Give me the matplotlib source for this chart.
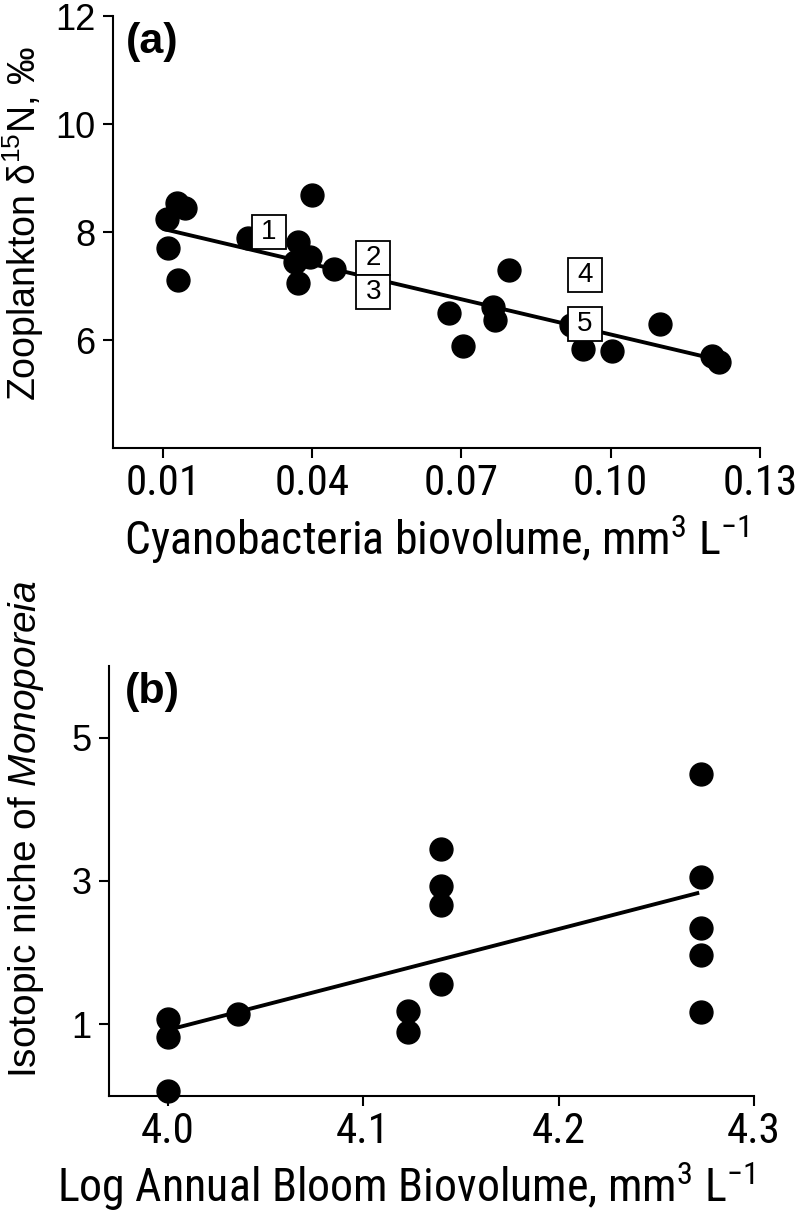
import os
import matplotlib
matplotlib.use("Agg")
import matplotlib.pyplot as plt
import matplotlib.font_manager as fm

plt.rcParams['font.family'] = ['Liberation Sans', 'DejaVu Sans']
plt.rcParams['mathtext.fontset'] = 'custom'
plt.rcParams['mathtext.rm'] = 'Liberation Sans'
plt.rcParams['mathtext.it'] = 'Liberation Sans:italic'
plt.rcParams['mathtext.bf'] = 'Liberation Sans:bold'

# the x axis texts are set in a condensed face in the original; use one if present
narrow_file = None
for key in ['LiberationSansNarrow-Regular', 'RobotoCondensed-Regular',
            'DejaVuSansCondensed.ttf', 'OpenSans_Condensed-Regular']:
    for f in fm.fontManager.ttflist:
        if key in os.path.basename(f.fname):
            narrow_file = f.fname
            break
    if narrow_file:
        break

if narrow_file:
    narrow_name = fm.get_font(narrow_file).family_name
    plt.rcParams['mathtext.sf'] = narrow_name
    xtick_fp = fm.FontProperties(fname=narrow_file, size=31)
    xlab_fp_a = fm.FontProperties(fname=narrow_file, size=33)
    xlab_fp_b = fm.FontProperties(fname=narrow_file, size=33)
    unit = r'$\mathsf{mm^{3}}$ $\mathsf{L^{-1}}$'
else:
    xtick_fp = fm.FontProperties(family='Liberation Sans', size=27)
    xlab_fp_a = fm.FontProperties(family='Liberation Sans', size=29)
    xlab_fp_b = fm.FontProperties(family='Liberation Sans', size=29)
    unit = r'mm$^{3}$ L$^{-1}$'
xlab_a = 'Cyanobacteria biovolume, ' + unit
xlab_b = 'Log Annual Bloom Biovolume, ' + unit

# panel (a): zooplankton d15N vs cyanobacteria biovolume
cyano_x = [0.0108, 0.0128, 0.0144, 0.0110, 0.0130, 0.0271, 0.0372, 0.0396,
           0.0366, 0.0372, 0.0400, 0.0444, 0.0676, 0.0704, 0.0764, 0.0768,
           0.0795, 0.0920, 0.0944, 0.1002, 0.1100, 0.1203, 0.1217]
zoo_n15 = [8.24, 8.54, 8.44, 7.70, 7.11, 7.89, 7.82, 7.54,
           7.44, 7.06, 8.69, 7.31, 6.50, 5.89, 6.61, 6.37,
           7.30, 6.28, 5.83, 5.80, 6.30, 5.70, 5.59]
fit_a_x = [0.0104, 0.1208]
fit_a_y = [8.05, 5.65]
box_x = [0.0313, 0.0523, 0.0523, 0.0948, 0.0948]
box_y = [8.00, 7.52, 6.88, 7.20, 6.30]
box_labels = ['1', '2', '3', '4', '5']
a_xticks = [0.01, 0.04, 0.07, 0.10, 0.13]
a_xticklabels = ['0.01', '0.04', '0.07', '0.10', '0.13']
a_yticks = [6, 8, 10, 12]

# panel (b): isotopic niche vs log bloom biovolume
bloom_x = [4.0, 4.0, 4.0, 4.036, 4.123, 4.123, 4.14, 4.14, 4.14, 4.14,
           4.273, 4.273, 4.273, 4.273, 4.273]
niche = [1.08, 0.82, 0.07, 1.15, 1.18, 0.90, 3.45, 2.93, 2.67, 1.56,
         4.49, 3.05, 2.35, 1.97, 1.17]
fit_b_x = [4.0, 4.271]
fit_b_y = [0.92, 2.83]
b_xticks = [4.0, 4.1, 4.2, 4.3]
b_yticks = [1, 3, 5]


def style_axes(ax):
    for side in ['top', 'right']:
        ax.spines[side].set_visible(False)
    for side in ['left', 'bottom']:
        ax.spines[side].set_linewidth(1.5)
    ax.tick_params(direction='out', length=7.5, width=1.5)
    ax.tick_params(axis='y', labelsize=26, pad=5)
    ax.tick_params(axis='x', pad=3)
    for lab in ax.get_xticklabels():
        lab.set_fontproperties(xtick_fp)


fig = plt.figure(figsize=(7.96, 12.16), dpi=100)

# (a)
ax1 = fig.add_axes([113 / 796, 1 - 448 / 1216, 647 / 796, 432 / 1216])
ax1.plot(fit_a_x, fit_a_y, color='black', lw=2.8, zorder=2)
ax1.plot(cyano_x, zoo_n15, 'o', color='black', ms=16.5, zorder=3)
ax1.plot(box_x, box_y, 's', ms=25, mfc='white', mec='black', mew=1.3, zorder=4)
for bx, by, bl in zip(box_x, box_y, box_labels):
    ax1.text(bx, by, bl, ha='center', va='center', fontsize=20, zorder=5)
ax1.set_xlim(0, 0.13)
ax1.set_ylim(4, 12)
ax1.set_xticks(a_xticks)
ax1.set_xticklabels(a_xticklabels)
ax1.set_yticks(a_yticks)
style_axes(ax1)
ax1.set_xlabel(xlab_a, fontproperties=xlab_fp_a)
ax1.xaxis.set_label_coords(0.5, -0.15)
ax1.set_ylabel(r'Zooplankton δ$^{15}$N, ‰', fontsize=27)
ax1.yaxis.set_label_coords(-0.104, 0.52)
ax1.text(0.02, 0.985, '(a)', transform=ax1.transAxes, fontsize=31,
         fontweight='bold', ha='left', va='top')

# (b)
ax2 = fig.add_axes([109 / 796, 1 - 1096 / 1216, 645 / 796, 430 / 1216])
ax2.plot(fit_b_x, fit_b_y, color='black', lw=2.8, zorder=2)
ax2.plot(bloom_x, niche, 'o', color='black', ms=16.5, zorder=3, clip_on=False)
ax2.set_xlim(3.97, 4.3)
ax2.set_ylim(0, 6)
ax2.set_xticks(b_xticks)
ax2.set_yticks(b_yticks)
style_axes(ax2)
ax2.set_xlabel(xlab_b, fontproperties=xlab_fp_b)
ax2.xaxis.set_label_coords(0.46, -0.148)
ax2.set_ylabel(r'Isotopic niche of $\it{Monoporeia}$', fontsize=28)
ax2.yaxis.set_label_coords(-0.098, 0.62)
ax2.text(0.025, 0.985, '(b)', transform=ax2.transAxes, fontsize=31,
         fontweight='bold', ha='left', va='top')

fig.savefig('out.png', dpi=100)
